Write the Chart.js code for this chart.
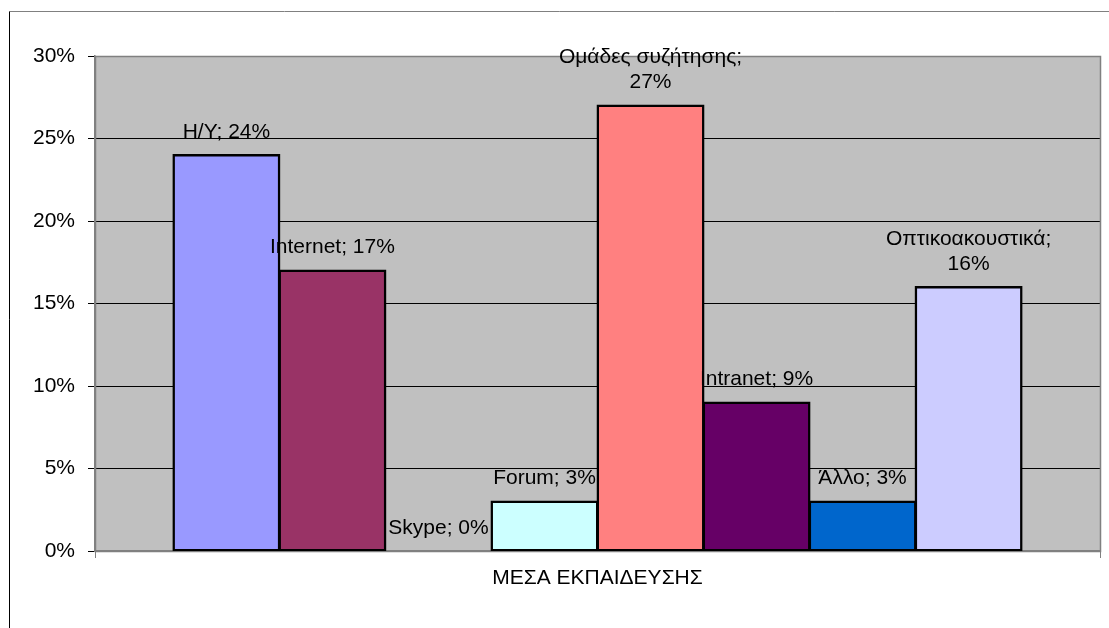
<!DOCTYPE html>
<html lang="el">
<head>
    <meta charset="UTF-8">
    <title>ΜΕΣΑ ΕΚΠΑΙΔΕΥΣΗΣ</title>
    <script src="https://cdn.jsdelivr.net/npm/chart.js"></script>
    <style>
        body { margin: 0; background: #fff; }
        #wrap { width: 1109px; height: 628px; }
    </style>
</head>
<body>
    <div id="wrap">
        <canvas id="chart" width="1109" height="628"></canvas>
    </div>
    <script>
        // Δεδομένα
        const categories = ['ΜΕΣΑ ΕΚΠΑΙΔΕΥΣΗΣ'];
        const seriesNames = ['Η/Υ', 'Internet', 'Skype', 'Forum', 'Ομάδες συζήτησης', 'Intranet', 'Άλλο', 'Οπτικοακουστικά'];
        const seriesValues = [24, 17, 0, 3, 27, 9, 3, 16];
        const yMax = 30;
        const yStep = 5;

        const seriesColors = ['#9999FF', '#993366', '#FFFFCC', '#CCFFFF', '#FF8080', '#660066', '#0066CC', '#CCCCFF'];
        const FONT = 'Liberation Sans, Arial, sans-serif';

        // Γκρι φόντο και πλαίσιο περιοχής σχεδίασης
        const plotArea = {
            id: 'plotArea',
            beforeDraw(chart) {
                const { ctx, chartArea: a } = chart;
                ctx.save();
                ctx.fillStyle = '#C0C0C0';
                ctx.fillRect(a.left, a.top, a.right - a.left, a.bottom - a.top);
                ctx.restore();
            },
            beforeDatasetsDraw(chart) {
                const { ctx, chartArea: a } = chart;
                ctx.save();
                ctx.strokeStyle = '#808080';
                ctx.lineWidth = 1.5;
                ctx.strokeRect(Math.round(a.left) + 0.5, Math.round(a.top) + 0.5, Math.round(a.right - a.left), Math.round(a.bottom - a.top));
                ctx.restore();
            },
            afterDraw(chart) {
                // εξωτερικό πλαίσιο γραφήματος
                const ctx = chart.ctx;
                ctx.save();
                ctx.lineWidth = 1;
                ctx.strokeStyle = '#808080';
                ctx.beginPath();
                ctx.moveTo(9.5, 11.5);
                ctx.lineTo(chart.width, 11.5);
                ctx.stroke();
                ctx.strokeStyle = '#000';
                ctx.beginPath();
                ctx.moveTo(9.5, 11.5);
                ctx.lineTo(9.5, chart.height);
                ctx.stroke();
                ctx.restore();
            }
        };

        // Ετικέτες "Σειρά; τιμή%" πάνω από κάθε ράβδο
        const barLabels = {
            id: 'barLabels',
            afterDatasetsDraw(chart) {
                const ctx = chart.ctx;
                ctx.save();
                ctx.font = '21px ' + FONT;
                ctx.fillStyle = '#000';
                ctx.textAlign = 'center';
                ctx.textBaseline = 'middle';
                chart.data.datasets.forEach((ds, i) => {
                    const bar = chart.getDatasetMeta(i).data[0];
                    const text = ds.label + '; ' + ds.data[0] + '%';
                    let lines = [text];
                    if (ctx.measureText(text).width > 180) {
                        lines = [ds.label + ';', ds.data[0] + '%'];
                    }
                    const lh = 25;
                    lines.forEach((ln, k) => {
                        const y = bar.y - 23 - (lines.length - 1 - k) * lh;
                        ctx.fillText(ln, bar.x, y);
                    });
                });
                ctx.restore();
            }
        };

        new Chart(document.getElementById('chart'), {
            type: 'bar',
            data: {
                labels: categories,
                datasets: seriesNames.map((name, i) => ({
                    label: name,
                    data: [seriesValues[i]],
                    backgroundColor: seriesColors[i],
                    borderColor: '#000',
                    borderWidth: 2.5,
                    inflateAmount: 1,
                    borderSkipped: false
                }))
            },
            options: {
                responsive: false,
                animation: false,
                categoryPercentage: 0.844,
                barPercentage: 1,
                layout: { padding: { top: 56, right: 9, left: 0, bottom: 0 } },
                plugins: {
                    legend: { display: false },
                    tooltip: { enabled: false }
                },
                scales: {
                    x: {
                        afterFit(scale) { scale.height = 77; },
                        grid: {
                            offset: true,
                            drawOnChartArea: false,
                            drawTicks: true,
                            tickLength: 7,
                            tickColor: '#808080'
                        },
                        border: { color: '#808080', width: 1.5 },
                        ticks: {
                            color: '#000',
                            padding: 8,
                            font: { family: FONT, size: 21 }
                        }
                    },
                    y: {
                        min: 0,
                        max: yMax,
                        afterFit(scale) { scale.width = 95; },
                        grid: {
                            color: '#000',
                            lineWidth: 1,
                            tickLength: 7,
                            tickColor: '#000'
                        },
                        border: { color: '#808080', width: 1.5 },
                        ticks: {
                            stepSize: yStep,
                            color: '#000',
                            padding: 13,
                            font: { family: FONT, size: 21 },
                            callback: v => v + '%'
                        }
                    }
                }
            },
            plugins: [plotArea, barLabels]
        });
    </script>
</body>
</html>
